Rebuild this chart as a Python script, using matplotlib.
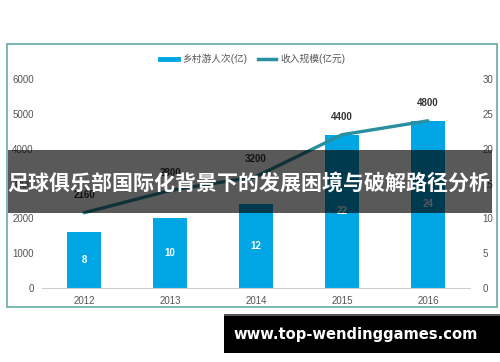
import matplotlib.pyplot as plt
from matplotlib.patches import Rectangle
from matplotlib.lines import Line2D

plt.rcParams['font.family'] = ['Liberation Sans', 'Noto Sans CJK SC', 'DejaVu Sans']

# data
years = ['2012', '2013', '2014', '2015', '2016']
visitors = [8, 10, 12, 22, 24]            # 乡村游人次(亿), right axis, bars
income = [2160, 2800, 3200, 4400, 4800]   # 收入规模(亿元), left axis, line
left_ticks = [0, 1000, 2000, 3000, 4000, 5000, 6000]
right_ticks = [0, 5, 10, 15, 20, 25, 30]

bar_color = '#00a6e4'
line_color = '#2a8f9e'
tick_color = '#555555'

W, H = 500, 362
fig = plt.figure(figsize=(W / 100, H / 100), dpi=100)
fig.patch.set_facecolor('white')

# outer frame around the chart
fig.add_artist(Rectangle((7 / W, 1 - 307 / H), 490 / W, 263 / H, transform=fig.transFigure,
                         fill=False, edgecolor='#6fb3ac', linewidth=1.3))

ax1 = fig.add_axes([42 / W, 1 - 288 / H, 428 / W, 209 / H])
ax2 = ax1.twinx()
ax1.set_zorder(ax2.get_zorder() + 1)
ax1.patch.set_visible(False)

x = range(len(years))

# bars on right axis
bars = ax2.bar(x, visitors, width=0.4, color=bar_color, zorder=2)
for xi, v in zip(x, visitors):
    ax2.text(xi, v / 2, str(v), ha='center', va='center', color='white',
             fontsize=7, fontweight='bold')

# line on left axis
ax1.plot(x, income, color=line_color, linewidth=2.4, solid_capstyle='round')
for xi, v in zip(x, income):
    ax1.annotate(str(v), (xi, v), xytext=(0, 9), textcoords='offset points',
                 ha='center', va='bottom', fontsize=7, fontweight='bold', color='#333333')

ax1.set_xlim(-0.49, 4.49)
ax1.set_ylim(0, 6000)
ax2.set_ylim(0, 30)
ax1.set_yticks(left_ticks)
ax2.set_yticks(right_ticks)
ax1.set_xticks(list(x))
ax1.set_xticklabels(years)

for a in (ax1, ax2):
    for s in a.spines.values():
        s.set_visible(False)
    a.tick_params(length=0, labelsize=7, labelcolor=tick_color)
ax1.spines['bottom'].set_visible(True)
ax1.spines['bottom'].set_color('#cccccc')
ax1.tick_params(axis='x', pad=6)
ax1.tick_params(axis='y', pad=6)
ax2.tick_params(axis='y', pad=9)

# legend at the top
handles = [Line2D([], [], color=bar_color, linewidth=3.5),
           Line2D([], [], color=line_color, linewidth=2.5)]
fig.legend(handles, ['乡村游人次(亿)', '收入规模(亿元)'], loc='center',
           bbox_to_anchor=(253 / W, 1 - 59 / H), ncol=2, frameon=False,
           fontsize=7, handlelength=1.8, columnspacing=1.1, handletextpad=0.5,
           labelcolor='#555555')

# dark banner with title
fig.add_artist(Rectangle((8 / W, 1 - 213 / H), 484 / W, 63 / H, transform=fig.transFigure,
                         facecolor='black', alpha=0.65, edgecolor='none', zorder=5))
fig.text(249 / W, 1 - 183 / H, '足球俱乐部国际化背景下的发展困境与破解路径分析',
         ha='center', va='center', color='white', fontsize=15.1, fontweight='bold',
         family=['Noto Sans CJK SC', 'DejaVu Sans'], zorder=6)

# black box with site address
fig.add_artist(Rectangle((224 / W, 1 - 316 / H), 276 / W, 2 / H, transform=fig.transFigure,
                         facecolor='#555555', edgecolor='none', zorder=5))
fig.add_artist(Rectangle((224 / W, 1 - 353 / H), 276 / W, 37 / H, transform=fig.transFigure,
                         facecolor='black', edgecolor='none', zorder=5))
fig.text(356 / W, 1 - 335 / H, 'www.top-wendinggames.com', ha='center', va='center',
         color='white', fontsize=10.6, fontweight='bold', family='DejaVu Sans', zorder=6)

fig.savefig('out.png', dpi=100)
